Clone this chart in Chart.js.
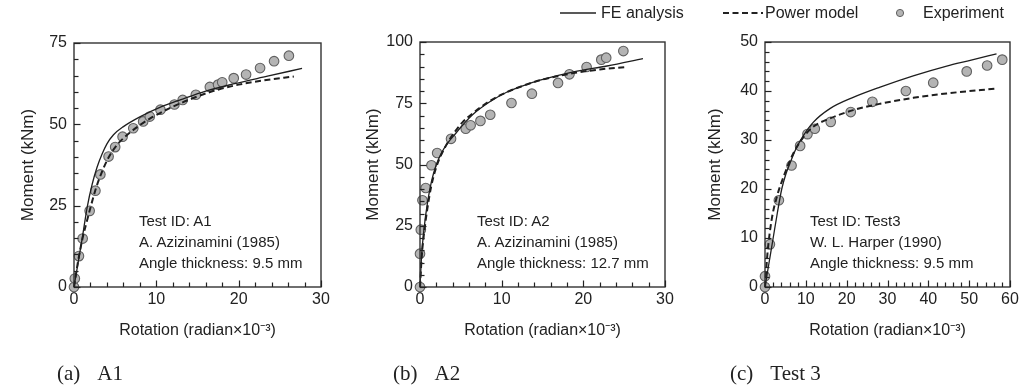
<!DOCTYPE html>
<html>
<head>
<meta charset="utf-8">
<title>Moment-rotation curves</title>
<script src="https://cdn.jsdelivr.net/npm/chart.js@4.4.1/dist/chart.umd.min.js"></script>
<style>
  html, body { margin: 0; padding: 0; background: #fff; }
  #wrap {
    position: relative; width: 1026px; height: 392px; overflow: hidden;
    font-family: "Liberation Sans", Arial, sans-serif; color: #222;
  }
  #wrap canvas { position: absolute; left: 0; top: 0; }
  .note { position: absolute; top: 210px; font-size: 15px; line-height: 21px; white-space: nowrap; }
  .cap {
    position: absolute; top: 360px; font-family: "Liberation Serif", "Times New Roman", serif;
    font-size: 21px; line-height: 26px; white-space: nowrap;
  }
  .cap span { margin-left: 17px; }
  .leg { position: absolute; top: 3px; font-size: 16px; line-height: 20px; white-space: nowrap; }
</style>
</head>
<body>
<div id="wrap">
  <canvas id="c1" width="1026" height="392"></canvas>
  <canvas id="c2" width="1026" height="392"></canvas>
  <canvas id="c3" width="1026" height="392"></canvas>

  <!-- legend -->
  <svg class="leg" style="left:558px" width="40" height="20"><line x1="2" y1="10" x2="38" y2="10" stroke="#222" stroke-width="1.3"/></svg>
  <div class="leg" style="left:601px">FE analysis</div>
  <svg class="leg" style="left:722px" width="42" height="20"><line x1="1" y1="10" x2="41" y2="10" stroke="#222" stroke-width="2" stroke-dasharray="6 3.5"/></svg>
  <div class="leg" style="left:765px">Power model</div>
  <svg class="leg" style="left:893px" width="14" height="20"><circle cx="7" cy="10" r="3.6" fill="#b4b4b4" stroke="#606060" stroke-width="1"/></svg>
  <div class="leg" style="left:923px">Experiment</div>

  <!-- test info inside each plot -->
  <div class="note" style="left:139px">Test ID: A1<br>A. Azizinamini (1985)<br>Angle thickness: 9.5 mm</div>
  <div class="note" style="left:477px">Test ID: A2<br>A. Azizinamini (1985)<br>Angle thickness: 12.7 mm</div>
  <div class="note" style="left:810px">Test ID: Test3<br>W. L. Harper (1990)<br>Angle thickness: 9.5 mm</div>

  <!-- captions -->
  <div class="cap" style="left:57px">(a)<span>A1</span></div>
  <div class="cap" style="left:393px">(b)<span>A2</span></div>
  <div class="cap" style="left:730px">(c)<span>Test 3</span></div>
</div>

<script>
// rotation (rad x 1e-3), moment (kNm)
const a1Fe = [[0,0],[0.5,7.5],[1.0,15],[1.6,24.5],[2.2,31.5],[2.8,36.8],[3.4,40.8],[4.0,44],[4.8,46.8],[6,49.3],[8,52.3],[10.5,55.3],[13,57.6],[16,60.2],[19.5,62.5],[23.5,64.8],[27.7,67.2]];
const a1Power = [[0,0],[0.5,8],[1.0,14.5],[1.8,22.5],[2.6,29.8],[3.3,34.8],[4.2,39.8],[5.2,43.6],[6.3,46.4],[7.8,49.4],[9.5,52.2],[11.5,54.8],[14,57.6],[17,60.3],[20,62.2],[23,63.5],[26.7,64.7]];
const a1Test = [[0,0],[0.1,2.6],[0.6,9.5],[1.05,14.9],[1.9,23.4],[2.6,29.6],[3.2,34.6],[4.2,40.1],[5.0,43],[5.9,46.2],[7.2,48.8],[8.4,50.9],[9.2,52.4],[10.5,54.5],[12.2,56.1],[13.2,57.5],[14.8,59.1],[16.5,61.5],[17.5,62.2],[18.0,62.9],[19.4,64.2],[20.9,65.3],[22.6,67.3],[24.3,69.4],[26.1,71.1]];

const a2Fe = [[0,0],[0.2,13],[0.5,24],[0.9,34],[1.4,43],[2.0,50],[2.6,54.5],[3.4,58.8],[4.2,62],[5.2,66],[6.5,70.5],[8.5,75.5],[10.6,79.5],[12.5,82],[14.7,84.4],[18.8,87.8],[22.9,90.2],[27.3,93.2]];
const a2Power = [[0,0],[0.2,12],[0.5,22],[0.9,32],[1.4,41.5],[2.0,49],[2.6,54],[3.4,59],[4.2,63],[5.2,67.2],[6.5,71],[8.5,75.8],[10.6,79.5],[12.5,82],[14.7,84.4],[18.8,87.3],[22,88.8],[25.3,89.8]];
const a2Test = [[0,0],[0,13.6],[0.1,23.4],[0.3,35.4],[0.7,40.4],[1.4,49.7],[2.1,54.7],[3.8,60.5],[5.6,64.6],[6.2,66],[7.4,67.8],[8.6,70.3],[11.2,75.1],[13.7,78.9],[16.9,83.3],[18.3,86.8],[20.4,89.8],[22.2,92.8],[22.8,93.6],[24.9,96.3]];

const t3Fe = [[0,0],[1.0,5],[2.0,10],[3.0,15],[4.1,20],[5.1,23],[6.1,25.2],[7.7,28.4],[9.4,30.9],[11.8,33.6],[15.9,36.4],[21.6,38.7],[28.2,40.8],[36.3,43.1],[44.5,45.1],[50.5,46.3],[56.7,47.6]];
const t3Power = [[0,0],[0.6,6.8],[1.6,13.6],[2.9,18.4],[4.5,22.4],[6.9,27.2],[9.4,30.6],[11.8,32.7],[15.9,34.4],[21.6,36.1],[28.2,37.4],[36.3,38.6],[44.5,39.5],[56.7,40.5]];
const t3Test = [[0,0],[0,2.2],[1.2,8.7],[3.4,17.7],[6.5,24.8],[8.6,28.8],[10.4,31.2],[12.2,32.3],[16.1,33.7],[21.0,35.7],[26.3,37.8],[34.5,40.0],[41.2,41.7],[49.4,44.0],[54.4,45.2],[58.1,46.4]];

const FONT = "'Liberation Sans', Arial, sans-serif";
const INK = "#222";

const toXY = (arr) => arr.map(([x, y]) => ({ x, y }));

// box around the plot + inward major/minor ticks on the left and bottom axes
function drawFrame(chart, xMinor, yMinor) {
  const ctx = chart.ctx;
  const a = chart.chartArea;
  const x = chart.scales.x, y = chart.scales.y;
  ctx.save();
  ctx.strokeStyle = "#333";
  ctx.lineWidth = 1.4;
  ctx.setLineDash([]);
  ctx.strokeRect(a.left, a.top, a.right - a.left, a.bottom - a.top);

  ctx.strokeStyle = "#222";
  ctx.lineWidth = 1.2;
  const xs = x.options.ticks.stepSize;
  for (let k = 0; k * xMinor <= x.max + 1e-9; k++) {
    const v = k * xMinor;
    const px = Math.round(x.getPixelForValue(v)) + 0.5;
    const len = v % xs === 0 ? 6.5 : 4.5;
    ctx.beginPath();
    ctx.moveTo(px, a.bottom);
    ctx.lineTo(px, a.bottom - len);
    ctx.stroke();
  }
  const ys = y.options.ticks.stepSize;
  for (let k = 0; k * yMinor <= y.max + 1e-9; k++) {
    const v = k * yMinor;
    const py = Math.round(y.getPixelForValue(v)) + 0.5;
    const len = v % ys === 0 ? 6.5 : 4.5;
    ctx.beginPath();
    ctx.moveTo(a.left, py);
    ctx.lineTo(a.left + len, py);
    ctx.stroke();
  }
  ctx.restore();
}

function makePanel(id, p) {
  return new Chart(document.getElementById(id), {
    type: "scatter",
    data: {
      datasets: [
        {
          label: "FE analysis", data: toXY(p.fe), showLine: true, order: 1,
          borderColor: "#1e1e1e", borderWidth: 1.3, pointRadius: 0,
          cubicInterpolationMode: "monotone", clip: false
        },
        {
          label: "Power model", data: toXY(p.power), showLine: true, order: 2,
          borderColor: "#1e1e1e", borderWidth: 2, borderDash: [6, 3.5], pointRadius: 0,
          cubicInterpolationMode: "monotone", clip: false
        },
        {
          label: "Experiment", data: toXY(p.test), showLine: false, order: 3,
          pointRadius: 4.8, backgroundColor: "#b4b4b4", borderColor: "#606060", borderWidth: 1.1,
          clip: false
        }
      ]
    },
    options: {
      responsive: false,
      animation: false,
      devicePixelRatio: 1,
      layout: { padding: { left: p.left, right: p.right, top: p.top, bottom: 52 } },
      plugins: {
        legend: { display: false },
        tooltip: { enabled: false }
      },
      scales: {
        x: {
          type: "linear", min: 0, max: p.xMax,
          grid: { display: false, drawTicks: false },
          border: { display: false },
          ticks: { stepSize: p.xStep, padding: 3, color: INK, font: { family: FONT, size: 16 } },
          title: {
            display: true, text: "Rotation (radian×10⁻³)", color: INK, padding: 0,
            font: { family: FONT, size: 16 }
          },
          afterFit(s) { s.height = 53; }
        },
        y: {
          type: "linear", min: 0, max: p.yMax,
          grid: { display: false, drawTicks: false },
          border: { display: false },
          ticks: { stepSize: p.yStep, padding: 7, color: INK, font: { family: FONT, size: 16 } },
          title: {
            display: true, text: "Moment (kNm)", color: INK, padding: 0,
            font: { family: FONT, size: 17 }
          },
          afterFit(s) { s.width = p.yWidth; }
        }
      }
    },
    plugins: [{
      id: "frameTicks",
      afterDraw(c) { drawFrame(c, p.xMinor, p.yMinor); }
    }]
  });
}

makePanel("c1", { fe: a1Fe, power: a1Power, test: a1Test,
  left: 18, right: 705, top: 43, yWidth: 56,
  xMax: 30, xStep: 10, xMinor: 2, yMax: 75, yStep: 25, yMinor: 5 });

makePanel("c2", { fe: a2Fe, power: a2Power, test: a2Test,
  left: 363, right: 361, top: 42, yWidth: 57,
  xMax: 30, xStep: 10, xMinor: 2, yMax: 100, yStep: 25, yMinor: 5 });

makePanel("c3", { fe: t3Fe, power: t3Power, test: t3Test,
  left: 705, right: 16, top: 42, yWidth: 60,
  xMax: 60, xStep: 10, xMinor: 2, yMax: 50, yStep: 10, yMinor: 2 });
</script>
</body>
</html>
